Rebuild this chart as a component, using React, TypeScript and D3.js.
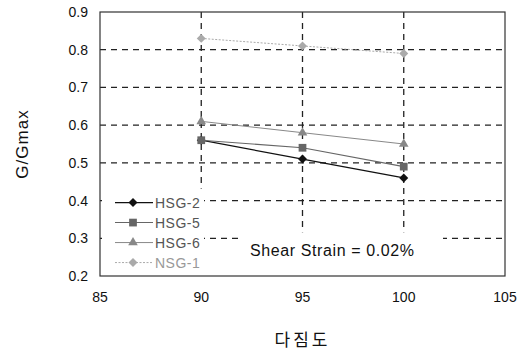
import React, { useEffect, useRef } from 'react';
import * as d3 from 'd3';

const compaction = [90, 95, 100];
const seriesNames = ['HSG-2', 'HSG-5', 'HSG-6', 'NSG-1'];
const hsg2 = [0.56, 0.51, 0.46];
const hsg5 = [0.56, 0.54, 0.49];
const hsg6 = [0.61, 0.58, 0.55];
const nsg1 = [0.83, 0.81, 0.79];
const xTicks = [85, 90, 95, 100, 105];
const yTicks = [0.2, 0.3, 0.4, 0.5, 0.6, 0.7, 0.8, 0.9];

// rot: rotate the square into a diamond
const styles = [
  { color: '#111', width: 1.3, dash: null, symbol: d3.symbolSquare, size: 40, rot: 45 },
  { color: '#666', width: 1.1, dash: null, symbol: d3.symbolSquare, size: 60, rot: 0 },
  { color: '#888', width: 1, dash: null, symbol: d3.symbolTriangle, size: 40, rot: 0 },
  { color: '#aaa', width: 1, dash: '2,1.5', symbol: d3.symbolSquare, size: 40, rot: 45 },
];

export default function App() {
  const svgRef = useRef<SVGSVGElement>(null);

  useEffect(() => {
    const svg = d3.select(svgRef.current);
    svg.selectAll('*').remove();

    const margin = { top: 12, right: 17, bottom: 78, left: 100 };
    const width = 522;
    const height = 354;
    const innerW = width - margin.left - margin.right;
    const innerH = height - margin.top - margin.bottom;

    const x = d3.scaleLinear().domain([85, 105]).range([0, innerW]);
    const y = d3.scaleLinear().domain([0.2, 0.9]).range([innerH, 0]);

    const g = svg.append('g').attr('transform', `translate(${margin.left},${margin.top})`);

    // grid
    g.selectAll('.hgrid')
      .data(yTicks.filter((t) => t > 0.25 && t < 0.85))
      .enter()
      .append('line')
      .attr('x1', 0)
      .attr('x2', innerW)
      .attr('y1', (d) => y(d))
      .attr('y2', (d) => y(d))
      .attr('stroke', '#222')
      .attr('stroke-width', 1.3)
      .attr('stroke-dasharray', '6,5');

    g.selectAll('.vgrid')
      .data(xTicks.slice(1, 4))
      .enter()
      .append('line')
      .attr('x1', (d) => x(d))
      .attr('x2', (d) => x(d))
      .attr('y1', 0)
      .attr('y2', innerH)
      .attr('stroke', '#222')
      .attr('stroke-width', 1.3)
      .attr('stroke-dasharray', '6,5');

    // annotation box (covers grid)
    g.append('rect')
      .attr('x', 140)
      .attr('y', y(0.3) - 6)
      .attr('width', 203)
      .attr('height', innerH - y(0.3) + 2)
      .attr('fill', 'white');

    // legend box (covers grid)
    g.append('rect')
      .attr('x', 2)
      .attr('y', y(0.4) - 12)
      .attr('width', 102)
      .attr('height', innerH - y(0.4) + 8)
      .attr('fill', 'white');

    // series
    const allSeries = [hsg2, hsg5, hsg6, nsg1];
    const line = d3
      .line<number>()
      .x((_, i) => x(compaction[i]))
      .y((d) => y(d));

    allSeries.forEach((vals, si) => {
      const s = styles[si];
      g.append('path')
        .datum(vals)
        .attr('d', line)
        .attr('fill', 'none')
        .attr('stroke', s.color)
        .attr('stroke-width', s.width)
        .attr('stroke-dasharray', s.dash);
      g.selectAll(`.m${si}`)
        .data(vals)
        .enter()
        .append('path')
        .attr('d', d3.symbol().type(s.symbol).size(s.size))
        .attr('transform', (d, i) => `translate(${x(compaction[i])},${y(d)}) rotate(${s.rot})`)
        .attr('fill', s.color);
    });

    // frame
    g.append('rect')
      .attr('width', innerW)
      .attr('height', innerH)
      .attr('fill', 'none')
      .attr('stroke', '#333')
      .attr('stroke-width', 1.2);

    // legend
    seriesNames.forEach((name, i) => {
      const s = styles[i];
      const ly = y(0.4) + 2 + i * 20;
      g.append('line')
        .attr('x1', 15)
        .attr('x2', 53)
        .attr('y1', ly)
        .attr('y2', ly)
        .attr('stroke', s.color)
        .attr('stroke-width', s.width)
        .attr('stroke-dasharray', s.dash);
      g.append('path')
        .attr('d', d3.symbol().type(s.symbol).size(s.size)())
        .attr('transform', `translate(33,${ly}) rotate(${s.rot})`)
        .attr('fill', s.color);
      g.append('text')
        .attr('x', 55)
        .attr('y', ly + 5)
        .attr('fill', i === 3 ? '#999' : '#555')
        .style('font-family', 'Liberation Sans, Arial, sans-serif')
        .style('font-size', '14px')
        .style('letter-spacing', '0.5px')
        .text(name);
    });

    g.append('text')
      .attr('x', 150)
      .attr('y', y(0.3) + 18)
      .attr('fill', '#111')
      .style('font-family', 'Liberation Sans, Arial, sans-serif')
      .style('font-size', '16px')
      .style('letter-spacing', '0.6px')
      .text('Shear Strain = 0.02%');

    // axes labels
    g.selectAll('.ytick')
      .data(yTicks)
      .enter()
      .append('text')
      .attr('x', -12)
      .attr('y', (d) => y(d) + 5)
      .attr('text-anchor', 'end')
      .attr('fill', '#111')
      .style('font-family', 'Liberation Sans, Arial, sans-serif')
      .style('font-size', '14px')
      .text((d) => d3.format('.1f')(d));

    g.selectAll('.xtick')
      .data(xTicks)
      .enter()
      .append('text')
      .attr('x', (d) => x(d))
      .attr('y', innerH + 26)
      .attr('text-anchor', 'middle')
      .attr('fill', '#111')
      .style('font-family', 'Liberation Sans, Arial, sans-serif')
      .style('font-size', '14px')
      .text((d) => d);

    g.append('text')
      .attr('transform', `translate(-72,${innerH / 2}) rotate(-90)`)
      .attr('text-anchor', 'middle')
      .attr('fill', '#111')
      .style('font-family', 'Liberation Sans, Arial, sans-serif')
      .style('font-size', '17px')
      .style('letter-spacing', '1px')
      .text('G/Gmax');

    g.append('text')
      .attr('x', innerW / 2)
      .attr('y', innerH + 70)
      .attr('text-anchor', 'middle')
      .attr('fill', '#111')
      .style('font-family', 'Noto Sans CJK KR, sans-serif')
      .style('font-size', '17px')
      .style('letter-spacing', '3px')
      .text('다짐도');
  }, []);

  return <svg ref={svgRef} width={522} height={354} style={{ position: 'absolute', left: 0, top: 0, background: 'white' }} />;
}
